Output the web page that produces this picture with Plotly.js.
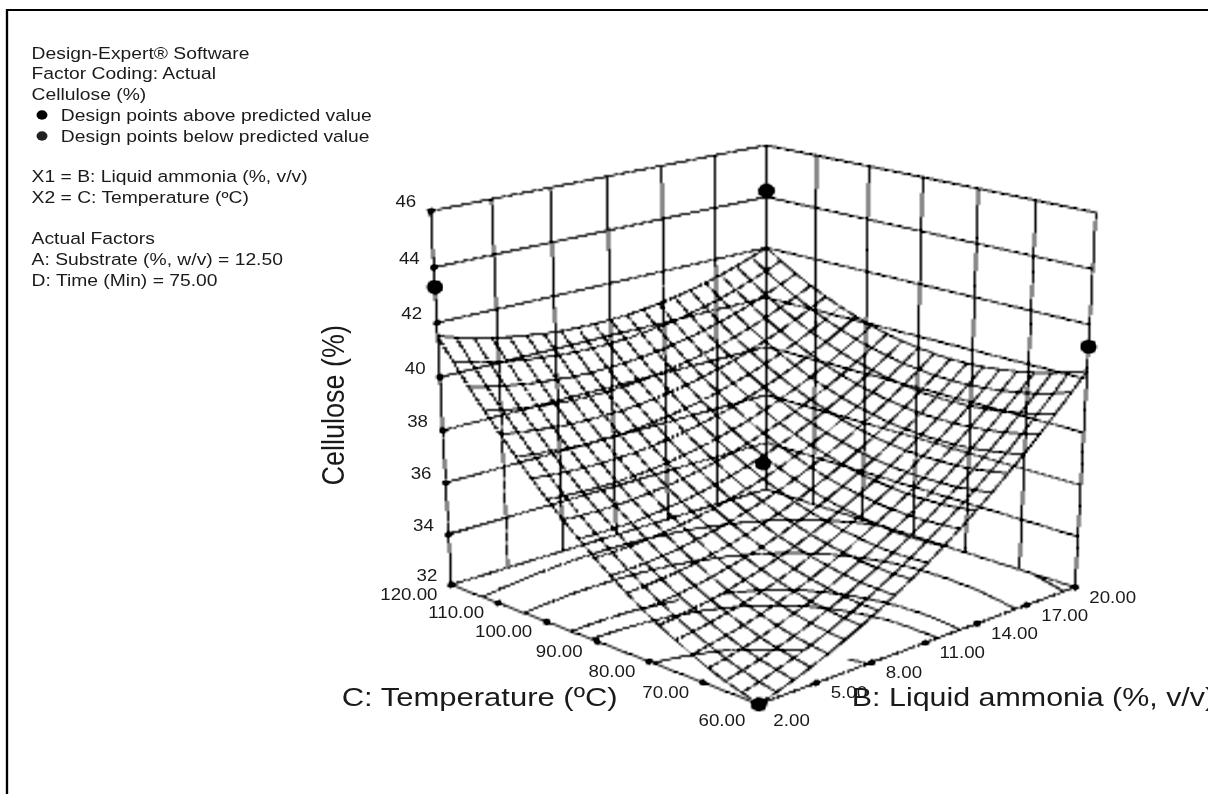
<!DOCTYPE html>
<html><head><meta charset="utf-8">
<script src="https://cdn.plot.ly/plotly-3.0.1.min.js"></script>
<style>html,body{margin:0;padding:0;background:#fff;overflow:hidden;width:1208px;height:794px}
#plot{position:absolute;left:0;top:-429px;transform:scaleX(1.17);transform-origin:0 0}
#plot canvas{filter:brightness(.68) contrast(2.8)}</style></head>
<body><div id="plot"></div>
<script>
// ---- data ----
const ammonia = [2,2.9,3.8,4.7,5.6,6.5,7.4,8.3,9.2,10.1,11,11.9,12.8,13.7,14.6,15.5,16.4,17.3,18.2,19.1,20];
const temperature = [60,63,66,69,72,75,78,81,84,87,90,93,96,99,102,105,108,111,114,117,120];
const cellulose = [
[32.00,32.20,32.42,32.66,32.92,33.22,33.52,33.86,34.22,34.60,35.00,35.43,35.88,36.35,36.84,37.37,37.90,38.47,39.06,39.67,40.30],
[32.18,32.35,32.56,32.77,33.02,33.29,33.58,33.89,34.24,34.59,34.98,35.39,35.82,36.27,36.74,37.25,37.76,38.31,38.88,39.47,40.09],
[32.37,32.53,32.71,32.91,33.13,33.39,33.66,33.95,34.28,34.61,34.98,35.37,35.78,36.21,36.66,37.15,37.65,38.17,38.73,39.29,39.89],
[32.61,32.74,32.91,33.08,33.29,33.53,33.77,34.05,34.36,34.67,35.02,35.39,35.78,36.19,36.63,37.09,37.57,38.08,38.61,39.16,39.74],
[32.88,33.00,33.14,33.30,33.49,33.71,33.93,34.19,34.48,34.77,35.10,35.45,35.82,36.21,36.63,37.08,37.53,38.02,38.54,39.06,39.62],
[33.18,33.27,33.40,33.54,33.71,33.90,34.11,34.35,34.62,34.89,35.20,35.53,35.89,36.25,36.65,37.08,37.52,37.98,38.48,38.99,39.53],
[33.51,33.59,33.70,33.81,33.96,34.14,34.33,34.55,34.79,35.05,35.34,35.65,35.99,36.33,36.71,37.12,37.54,37.99,38.46,38.95,39.47],
[33.87,33.92,34.01,34.11,34.24,34.40,34.57,34.76,34.99,35.23,35.50,35.79,36.11,36.44,36.79,37.18,37.58,38.01,38.47,38.94,39.44],
[34.26,34.30,34.37,34.45,34.56,34.70,34.84,35.02,35.23,35.45,35.70,35.97,36.27,36.58,36.92,37.29,37.66,38.07,38.51,38.96,39.44],
[34.70,34.71,34.76,34.82,34.91,35.03,35.16,35.32,35.51,35.71,35.94,36.19,36.47,36.76,37.08,37.43,37.79,38.18,38.60,39.03,39.49],
[35.15,35.15,35.18,35.22,35.29,35.39,35.50,35.64,35.81,35.99,36.20,36.43,36.69,36.96,37.26,37.59,37.93,38.30,38.70,39.11,39.55],
[35.65,35.63,35.64,35.66,35.71,35.79,35.88,36.00,36.15,36.31,36.50,36.71,36.95,37.20,37.48,37.79,38.11,38.46,38.84,39.24,39.66],
[36.16,36.12,36.11,36.11,36.14,36.21,36.28,36.38,36.51,36.65,36.82,37.01,37.23,37.46,37.72,38.02,38.32,38.65,39.01,39.38,39.78],
[36.72,36.66,36.63,36.61,36.62,36.66,36.71,36.80,36.91,37.03,37.18,37.35,37.55,37.77,38.01,38.28,38.56,38.87,39.21,39.56,39.95],
[37.31,37.23,37.18,37.15,37.14,37.16,37.19,37.25,37.35,37.45,37.58,37.73,37.91,38.11,38.33,38.58,38.84,39.13,39.46,39.79,40.15],
[37.93,37.83,37.76,37.70,37.67,37.68,37.69,37.73,37.81,37.89,38.00,38.13,38.30,38.47,38.67,38.90,39.15,39.42,39.72,40.03,40.38],
[38.58,38.46,38.38,38.30,38.25,38.24,38.23,38.25,38.30,38.37,38.46,38.57,38.72,38.87,39.05,39.27,39.49,39.74,40.02,40.32,40.64],
[39.26,39.12,39.01,38.92,38.85,38.81,38.79,38.79,38.82,38.87,38.94,39.03,39.16,39.29,39.45,39.65,39.85,40.09,40.35,40.62,40.93],
[39.97,39.81,39.69,39.57,39.49,39.43,39.38,39.37,39.38,39.41,39.46,39.53,39.64,39.75,39.90,40.07,40.25,40.47,40.71,40.97,41.25],
[40.73,40.55,40.40,40.27,40.16,40.09,40.02,39.99,39.98,39.99,40.02,40.08,40.16,40.25,40.38,40.53,40.70,40.89,41.12,41.35,41.62],
[41.50,41.31,41.14,40.99,40.86,40.77,40.68,40.63,40.60,40.59,40.60,40.64,40.70,40.78,40.88,41.02,41.16,41.34,41.54,41.76,42.00]
];
const contourLevels = [33.66,35.33,36.0,37.85,39.8];
const ammoniaTicks = [2,5,8,11,14,17,20];
const ammoniaLabels = ['2.00','5.00','8.00','11.00','14.00','17.00','20.00'];
const temperatureTicks = [60,70,80,90,100,110,120];
const temperatureLabels = ['60.00','70.00','80.00','90.00','100.00','110.00','120.00'];
const celluloseTicks = [32,34,36,38,40,42,44,46];
const aboveB = [2,20,20,11];
const aboveT = [120,120,60,90];
const aboveZ = [43.3,44.25,41.2,36.8];
const belowB = [2];
const belowT = [60];
const belowZ = [32.0];
const infoLines = ['Design-Expert® Software','Factor Coding: Actual','Cellulose (%)','Design points above predicted value','Design points below predicted value','X1 = B: Liquid ammonia (%, v/v)','X2 = C: Temperature (ºC)','Actual Factors','A: Substrate (%, w/v) = 12.50','D: Time (Min) = 75.00'];
const infoX = [29,29,29,58,58,29,29,29,29,29];
const infoY = [53,73,94,115,136,176,197,238,259,280];
const keyY = [115,136];
const keyColor = ['#000','#222'];

// ---- page geometry: the reference is stretched sideways ----
const STRETCH = 1.17, W = 1304, H = 2030, TOP = 429;
const px = x => (x / STRETCH) / W;
const py = y => 1 - (y + TOP) / H;
const FONT = '"Liberation Sans", Arial, sans-serif';
const INK = '#1a1a1a';

function poly(list){
  const x=[],y=[],z=[];
  list.forEach(p=>{ p.forEach(q=>{x.push(q[0]);y.push(q[1]);z.push(q[2]);}); x.push(null);y.push(null);z.push(null); });
  return {x,y,z};
}
const B0=ammoniaTicks[0],B1=ammoniaTicks[6],T0=temperatureTicks[0],T1=temperatureTicks[6],Z0=celluloseTicks[0],Z1=celluloseTicks[7];

const wall=[];
ammoniaTicks.forEach(b=>wall.push([[b,T1,Z0],[b,T1,Z1]]));
temperatureTicks.forEach(t=>wall.push([[B1,t,Z0],[B1,t,Z1]]));
celluloseTicks.forEach(z=>wall.push([[B0,T1,z],[B1,T1,z],[B1,T0,z]]));
const floorEdge=[[[B0,T1,Z0],[B0,T0,Z0],[B1,T0,Z0]]];

const meshA=[],meshB=[];
temperature.forEach((t,j)=>meshA.push(ammonia.map((b,i)=>[b,t,cellulose[j][i]])));
ammonia.forEach((b,i)=>meshB.push(temperature.map((t,j)=>[b,t,cellulose[j][i]])));

const contours=[];
contourLevels.forEach(l=>{
  for(let j=0;j<temperature.length-1;j++)for(let i=0;i<ammonia.length-1;i++){
    const c=[[i,j],[i+1,j],[i+1,j+1],[i,j+1]],pts=[];
    for(let k=0;k<4;k++){
      const a=c[k],b=c[(k+1)%4],za=cellulose[a[1]][a[0]],zb=cellulose[b[1]][b[0]];
      if((za-l)*(zb-l)<0){
        const f=(l-za)/(zb-za);
        pts.push([ammonia[a[0]]+f*(ammonia[b[0]]-ammonia[a[0]]),temperature[a[1]]+f*(temperature[b[1]]-temperature[a[1]]),Z0]);
      }
    }
    if(pts.length>=2)contours.push([pts[0],pts[1]]);
  }
});

function lineTrace(list,width,name){
  return Object.assign({type:'scatter3d',mode:'lines',name,showlegend:false,hoverinfo:'skip',
    connectgaps:false,line:{color:'#000',width}},poly(list));
}
const data=[
  lineTrace(wall,2,'walls'),
  lineTrace(floorEdge,2,'floor'),
  lineTrace(contours,2,'contours'),
  lineTrace(meshA,2,'surface ammonia lines'),
  lineTrace(meshB,2,'surface temperature lines'),
  {type:'scatter3d',mode:'markers',name:'ticks',showlegend:false,hoverinfo:'skip',
   x:temperatureTicks.map(()=>B0).concat(ammoniaTicks,celluloseTicks.map(()=>B0)),
   y:temperatureTicks.concat(ammoniaTicks.map(()=>T0),celluloseTicks.map(()=>T1)),
   z:temperatureTicks.map(()=>Z0).concat(ammoniaTicks.map(()=>Z0),celluloseTicks),
   marker:{size:3,color:'#000'}},
  {type:'scatter3d',mode:'markers',name:'Design points above predicted value',x:aboveB,y:aboveT,z:aboveZ,showlegend:false,
   marker:{size:7.5,color:'#000',line:{width:0}}},
  {type:'scatter3d',mode:'markers',name:'Design points below predicted value',x:belowB,y:belowT,z:belowZ,showlegend:false,
   marker:{size:7.5,color:'#222',line:{width:0}}}
];

const sceneAnn=[];
const tickFont={family:FONT,size:16,color:INK};
const infoFont={family:FONT,size:16.5,color:INK};
temperatureTicks.forEach((t,i)=>sceneAnn.push({x:B0,y:t,z:Z0,text:temperatureLabels[i],showarrow:false,font:tickFont,xanchor:'right',yanchor:'middle',xshift:-10,yshift:i===0?-16:-10}));
ammoniaTicks.forEach((b,i)=>sceneAnn.push({x:b,y:T0,z:Z0,text:ammoniaLabels[i],showarrow:false,font:tickFont,xanchor:'left',yanchor:'middle',xshift:10,yshift:i===0?-16:-10}));
celluloseTicks.forEach(z=>sceneAnn.push({x:B0,y:T1,z:z,text:String(z),showarrow:false,font:tickFont,xanchor:'right',yanchor:'middle',xshift:-10,yshift:9}));

const axisOff={showgrid:false,zeroline:false,showline:false,showticklabels:false,ticks:'',showspikes:false,showbackground:false,title:{text:''}};

const ann=[];
infoLines.forEach((t,i)=>ann.push({xref:'paper',yref:'paper',x:px(infoX[i]),y:py(infoY[i]),text:t,showarrow:false,xanchor:'left',yanchor:'middle',font:infoFont,align:'left'}));
ann.push({xref:'paper',yref:'paper',x:px(333),y:py(405),text:'Cellulose (%)',textangle:-90,showarrow:false,xanchor:'center',yanchor:'middle',font:{family:FONT,size:27,color:INK}});
ann.push({xref:'paper',yref:'paper',x:px(339),y:py(697),text:'C: Temperature (ºC)',showarrow:false,xanchor:'left',yanchor:'middle',font:{family:FONT,size:26.5,color:INK}});
ann.push({xref:'paper',yref:'paper',x:px(849),y:py(697),text:'B: Liquid ammonia (%, v/v)',showarrow:false,xanchor:'left',yanchor:'middle',font:{family:FONT,size:26,color:INK}});

const shapes=[{type:'rect',xref:'paper',yref:'paper',x0:px(7),x1:px(1400),y0:py(10),y1:py(1000),line:{color:'#000',width:2},fillcolor:'rgba(0,0,0,0)'}];
keyY.forEach((y,i)=>shapes.push({type:'circle',xref:'paper',yref:'paper',x0:px(36.5),x1:px(47.5),y0:py(y-4.7),y1:py(y+4.7),line:{width:0},fillcolor:keyColor[i]}));

const layout={
  width:W,height:H,margin:{l:0,r:0,t:0,b:0,pad:0},paper_bgcolor:'#fff',plot_bgcolor:'#fff',
  showlegend:false,
  annotations:ann,
  shapes,
  scene:{
    domain:{x:[0,1],y:[0,1]},
    xaxis:Object.assign({range:[1.5,20.5]},axisOff),
    yaxis:Object.assign({range:[58.333,121.667]},axisOff),
    zaxis:Object.assign({range:[31.611,46.389]},axisOff),
    aspectmode:'manual',aspectratio:{x:1.0556,y:1.0556,z:1.0714},
    camera:{eye:{x:-4.166,y:-4.262,z:2.086},center:{x:0,y:0,z:-0.5075},up:{x:0,y:0,z:1}},
    annotations:sceneAnn,
    bgcolor:'#fff'
  }
};
Plotly.newPlot('plot',data,layout,{displayModeBar:false,plotGlPixelRatio:0.5});
</script></body></html>
